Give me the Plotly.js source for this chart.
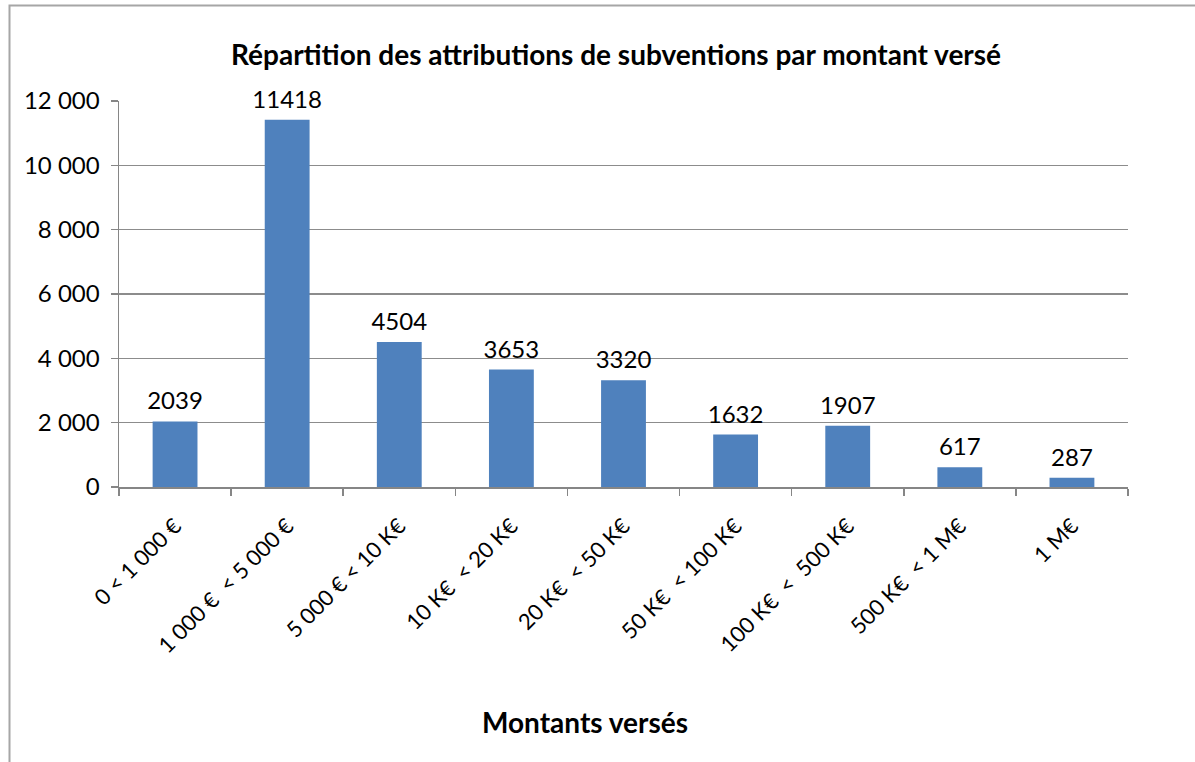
<!DOCTYPE html>
<html>
<head>
<meta charset="utf-8">
<script src="https://cdn.plot.ly/plotly-3.0.1.min.js"></script>
<style>html,body{margin:0;padding:0;background:#fff;}</style>
</head>
<body>
<div id="chart" style="width:1195px;height:762px;"></div>
<script>
const categories = ["0 < 1 000 €", "1 000 €  < 5 000 €", "5 000 € < 10 K€", "10 K€  < 20 K€", "20 K€  < 50 K€", "50 K€  < 100 K€", "100 K€  <  500 K€", "500 K€  < 1 M€", "1 M€"];
const values = [2039, 11418, 4504, 3653, 3320, 1632, 1907, 617, 287];
const labels = values.map(v => String(v));
const yTicks = [0, 2000, 4000, 6000, 8000, 10000, 12000];

const FONT = "Lato, 'Open Sans', sans-serif";

const bars = {
  type: 'bar', x: categories, y: values,
  marker: {color: '#4F81BD', line: {width: 0}},
  hoverinfo: 'x+y', showlegend: false
};
const txt = {
  type: 'scatter', mode: 'markers+text', x: categories, y: values, text: labels,
  marker: {size: 8, opacity: 0},
  textposition: 'top center', textfont: {family: FONT, size: 24, color: '#000'},
  cliponaxis: false, showlegend: false, hoverinfo: 'skip'
};

const layout = {
  width: 1195, height: 762,
  margin: {l: 119, r: 67, t: 101, b: 275},
  paper_bgcolor: '#fff', plot_bgcolor: '#fff',
  separators: ', ',
  bargap: 0.6,
  font: {family: FONT, size: 24, color: '#000'},
  title: {text: '<b>Répartition des attributions de subventions par montant versé</b>',
          font: {family: FONT, size: 28, color: '#000'},
          x: 0.4926, xref: 'paper', xanchor: 'center', y: 1 - 55/762, yref: 'container', yanchor: 'middle'},
  xaxis: {
    type: 'category', tickangle: -45, tickson: 'boundaries',
    ticks: 'outside', ticklen: 7, tickcolor: '#868686', tickwidth: 1.5,
    showline: true, linecolor: '#868686', linewidth: 1.5,
    showgrid: false, zeroline: false,
    tickfont: {family: FONT, size: 22, color: '#000'}, ticklabelstandoff: 16
  },
  yaxis: {
    range: [0, 12000], tickvals: yTicks, tickformat: ',d',
    ticks: 'outside', ticklen: 7, tickcolor: '#868686', tickwidth: 1.5,
    showline: true, linecolor: '#868686', linewidth: 1.5,
    showgrid: true, gridcolor: '#8C8C8C', gridwidth: 1.2, zeroline: false,
    tickfont: {family: FONT, size: 24, color: '#000'}, ticklabelstandoff: 6
  },
  annotations: [{
    text: '<b>Montants versés</b>', xref: 'paper', yref: 'paper',
    x: 0.4618, y: (487 - 722) / 386, xanchor: 'center', yanchor: 'middle',
    showarrow: false, font: {family: FONT, size: 28, color: '#000'}
  }],
  shapes: [{
    type: 'rect', xref: 'paper', yref: 'paper',
    x0: (9.5 - 119) / 1009, x1: 1.2, y0: -0.8, y1: (487 - 5.5) / 386,
    line: {color: '#A6A6A6', width: 2}, fillcolor: 'rgba(0,0,0,0)', layer: 'below'
  }]
};

Plotly.newPlot('chart', [bars, txt], layout, {displayModeBar: false, staticPlot: true});
</script>
</body>
</html>
